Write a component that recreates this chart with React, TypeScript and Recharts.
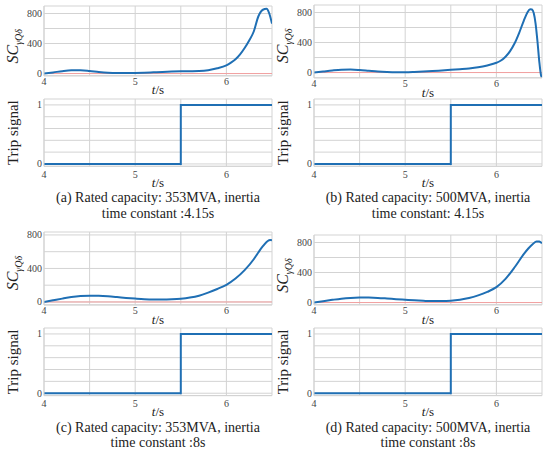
import React from "react";
import { CartesianGrid, Line, LineChart, ReferenceLine, XAxis, YAxis } from "recharts";

// time axis and tick labels
const X_TICKS = [4, 4.5, 5, 5.5, 6, 6.5];
const X_LABELS = [4, 5, 6];
const SC_TICKS = [0, 200, 400, 600, 800];
const SC_LABELS = [0, 400, 800];
const TRIP_TICKS = [0, 0.2, 0.4, 0.6, 0.8, 1];
const TRIP_LABELS = [0, 1];

// (a) 353MVA, 4.15s
const T_A = [4.0, 4.1, 4.2, 4.3, 4.4, 4.5, 4.6, 4.7, 4.8, 4.9, 5.0, 5.1, 5.2, 5.3, 5.4, 5.5, 5.6, 5.7, 5.8, 5.9, 6.0, 6.05, 6.1, 6.15, 6.2, 6.25, 6.3, 6.35, 6.4, 6.44, 6.47, 6.5];
const SC_A = [0, 15, 32, 43, 44, 35, 22, 12, 7, 6, 8, 12, 17, 22, 26, 29, 31, 34, 45, 70, 110, 145, 190, 255, 340, 440, 560, 760, 850, 862, 800, 665];

// (b) 500MVA, 4.15s
const T_B = [4.0, 4.1, 4.2, 4.3, 4.4, 4.5, 4.6, 4.7, 4.8, 4.9, 5.0, 5.1, 5.2, 5.3, 5.4, 5.5, 5.6, 5.7, 5.8, 5.9, 6.0, 6.05, 6.1, 6.15, 6.2, 6.25, 6.3, 6.34, 6.37, 6.39, 6.41, 6.43, 6.45, 6.47, 6.49, 6.5];
const SC_B = [0, 14, 28, 38, 40, 34, 24, 14, 8, 5, 5, 8, 13, 20, 28, 36, 45, 55, 70, 95, 130, 160, 210, 285, 390, 530, 690, 800, 845, 840, 790, 650, 420, 150, -40, -65];

// (c) 353MVA, 8s
const T_C = [4.0, 4.1, 4.2, 4.3, 4.4, 4.5, 4.6, 4.7, 4.8, 4.9, 5.0, 5.1, 5.2, 5.3, 5.4, 5.5, 5.6, 5.7, 5.8, 5.9, 6.0, 6.1, 6.2, 6.3, 6.35, 6.4, 6.45, 6.48, 6.5];
const SC_C = [0, 20, 40, 58, 70, 75, 73, 67, 58, 48, 40, 33, 29, 28, 31, 38, 52, 75, 112, 155, 205, 280, 380, 510, 590, 665, 725, 740, 735];

// (d) 500MVA, 8s
const T_D = [4.0, 4.1, 4.2, 4.3, 4.4, 4.5, 4.6, 4.7, 4.8, 4.9, 5.0, 5.1, 5.2, 5.3, 5.4, 5.5, 5.6, 5.7, 5.8, 5.9, 6.0, 6.1, 6.2, 6.3, 6.35, 6.4, 6.44, 6.47, 6.5];
const SC_D = [0, 18, 36, 52, 62, 66, 66, 62, 54, 45, 37, 29, 23, 19, 19, 24, 38, 60, 95, 142, 205, 315, 470, 645, 720, 780, 815, 812, 790];

// trip signal (step at 5.5 s)
const TRIP_T = [4, 5.5, 5.5, 6.5];
const TRIP_V = [0, 0, 1, 1];

const BLUE = "#1f6fb4";
const GRID = "#d3d3d3";
const FONT = "Liberation Serif, Times New Roman, serif";

const zip = (t: number[], v: number[]) => t.map((x, i) => ({ t: x, v: v[i] }));

type ChartProps = {
  colLeft: number;
  plotLeft: number;
  plotRight: number;
  plotTop: number;
  plotBottom: number;
  data: { t: number; v: number }[];
  yDomain: [number, number];
  yTicks: number[];
  yLabels: number[];
  xLabelOffset: number;
  zeroLine?: boolean;
};

function Plot({ colLeft, plotLeft, plotRight, plotTop, plotBottom, data, yDomain, yTicks, yLabels, xLabelOffset, zeroLine }: ChartProps) {
  const width = plotRight - colLeft + 4;
  const height = plotBottom - plotTop + 2 + 16;
  const xTick = (p: any) =>
    X_LABELS.includes(p.payload.value) ? (
      <text x={p.x} y={p.y + xLabelOffset} textAnchor="middle" dominantBaseline="central" style={{ fontFamily: FONT, fontSize: 10 }} fill="#444">
        {p.payload.value}
      </text>
    ) : (
      <g />
    );
  const yTick = (p: any) =>
    yLabels.includes(p.payload.value) ? (
      <text x={p.x - 2} y={p.y} textAnchor="end" dominantBaseline="central" style={{ fontFamily: FONT, fontSize: 10 }} fill="#444">
        {p.payload.value}
      </text>
    ) : (
      <g />
    );
  return (
    <div style={{ position: "absolute", left: colLeft, top: plotTop - 2 }}>
      <LineChart width={width} height={height} data={data} margin={{ top: 2, right: 4, bottom: 0, left: 0 }}>
        <CartesianGrid stroke={GRID} strokeWidth={1} />
        <XAxis
          dataKey="t"
          type="number"
          domain={[4, 6.5]}
          ticks={X_TICKS}
          interval={0}
          height={16}
          tickSize={0}
          tickMargin={0}
          tick={xTick}
          axisLine={{ stroke: GRID }}
          tickLine={false}
          allowDataOverflow
        />
        <YAxis
          type="number"
          domain={yDomain}
          ticks={[...yTicks, yDomain[1]]}
          interval={0}
          width={plotLeft - colLeft}
          tickSize={0}
          tickMargin={0}
          tick={yTick}
          axisLine={{ stroke: GRID }}
          tickLine={false}
          allowDataOverflow
        />
        {zeroLine && <ReferenceLine y={0} stroke="#f2a0a0" strokeWidth={1} />}
        <Line dataKey="v" type="monotone" stroke={BLUE} strokeWidth={2} dot={false} isAnimationActive={false} />
      </LineChart>
    </div>
  );
}

function TripPlot(props: Omit<ChartProps, "data" | "yTicks" | "yLabels" | "xLabelOffset">) {
  return <Plot {...props} data={zip(TRIP_T, TRIP_V)} yTicks={TRIP_TICKS} yLabels={TRIP_LABELS} xLabelOffset={8} />;
}

function CenteredText({ left, width, cy, size, children, color = "#222" }: any) {
  const box = size * 0.9;
  return (
    <div
      style={{
        position: "absolute",
        left,
        width,
        top: cy - box / 2,
        height: box,
        lineHeight: `${box}px`,
        fontSize: size,
        textAlign: "center",
        whiteSpace: "nowrap",
        color,
        fontFamily: FONT,
      }}
    >
      {children}
    </div>
  );
}

function ScLabel({ x, yStart }: { x: number; yStart: number }) {
  return (
    <svg style={{ position: "absolute", left: 0, top: 0, overflow: "visible" }} width={1} height={1}>
      <text transform={`translate(${x},${yStart}) rotate(-90)`} style={{ fontFamily: FONT }} fill="#222">
        <tspan fontSize={16} fontStyle="italic">SC</tspan>
        <tspan fontSize={10} fontStyle="italic" dy={4}>γQδ</tspan>
      </text>
    </svg>
  );
}

function TripLabel({ x, cy }: { x: number; cy: number }) {
  return (
    <svg style={{ position: "absolute", left: 0, top: 0, overflow: "visible" }} width={1} height={1}>
      <text transform={`translate(${x},${cy}) rotate(-90)`} textAnchor="middle" style={{ fontFamily: FONT, fontSize: 15 }} fill="#222">
        Trip signal
      </text>
    </svg>
  );
}

type PanelProps = {
  colLeft: number;
  plotLeft: number;
  plotRight: number;
  sc: { t: number; v: number }[];
  scTop: number;
  scBottom: number;
  scDomain: [number, number];
  tripTop: number;
  tripBottom: number;
  tripDomain: [number, number];
  captionY: number;
  caption1: string;
  caption2: string;
};

function Panel(p: PanelProps) {
  const w = p.plotRight - p.plotLeft;
  const labelX = p.plotLeft - 26;
  return (
    <>
      <Plot
        colLeft={p.colLeft}
        plotLeft={p.plotLeft}
        plotRight={p.plotRight}
        plotTop={p.scTop}
        plotBottom={p.scBottom}
        data={p.sc}
        yDomain={p.scDomain}
        yTicks={SC_TICKS}
        yLabels={SC_LABELS}
        xLabelOffset={6}
        zeroLine
      />
      <ScLabel x={labelX} yStart={p.scTop + 58} />
      <CenteredText left={p.plotLeft} width={w} cy={p.scBottom + 15} size={13}>
        <i>t</i>/s
      </CenteredText>
      <TripPlot
        colLeft={p.colLeft}
        plotLeft={p.plotLeft}
        plotRight={p.plotRight}
        plotTop={p.tripTop}
        plotBottom={p.tripBottom}
        yDomain={p.tripDomain}
      />
      <TripLabel x={labelX} cy={(p.tripTop + p.tripBottom) / 2} />
      <CenteredText left={p.plotLeft} width={w} cy={p.tripBottom + 16.5} size={13}>
        <i>t</i>/s
      </CenteredText>
      <CenteredText left={p.plotLeft - 40} width={w + 80} cy={p.captionY} size={14}>
        {p.caption1}
      </CenteredText>
      <CenteredText left={p.plotLeft - 40} width={w + 80} cy={p.captionY + 15.5} size={14}>
        {p.caption2}
      </CenteredText>
    </>
  );
}

export default function App() {
  return (
    <div style={{ position: "absolute", left: 0, top: 0, width: 550, height: 457, background: "#fff", overflow: "hidden" }}>
      <Panel
        colLeft={0}
        plotLeft={44}
        plotRight={272}
        sc={zip(T_A, SC_A)}
        scTop={5.5}
        scBottom={75.3}
        scDomain={[-30, 900]}
        tripTop={99}
        tripBottom={166.3}
        tripDomain={[-0.04, 1.1]}
        captionY={198.5}
        caption1="(a) Rated capacity: 353MVA, inertia"
        caption2="time constant :4.15s"
      />
      <Panel
        colLeft={275}
        plotLeft={314}
        plotRight={542}
        sc={zip(T_B, SC_B)}
        scTop={5.2}
        scBottom={78}
        scDomain={[-70, 900]}
        tripTop={99}
        tripBottom={166.3}
        tripDomain={[-0.04, 1.1]}
        captionY={198.5}
        caption1="(b) Rated capacity: 500MVA, inertia"
        caption2="time constant: 4.15s"
      />
      <Panel
        colLeft={0}
        plotLeft={44}
        plotRight={272}
        sc={zip(T_C, SC_C)}
        scTop={232.3}
        scBottom={305.2}
        scDomain={[-35, 835]}
        tripTop={328.1}
        tripBottom={395.7}
        tripDomain={[-0.04, 1.1]}
        captionY={428}
        caption1="(c) Rated capacity: 353MVA, inertia"
        caption2="time constant :8s"
      />
      <Panel
        colLeft={275}
        plotLeft={314}
        plotRight={542}
        sc={zip(T_D, SC_D)}
        scTop={234.8}
        scBottom={304.6}
        scDomain={[-30, 900]}
        tripTop={328.1}
        tripBottom={395.7}
        tripDomain={[-0.04, 1.1]}
        captionY={428}
        caption1="(d) Rated capacity: 500MVA, inertia"
        caption2="time constant :8s"
      />
    </div>
  );
}
